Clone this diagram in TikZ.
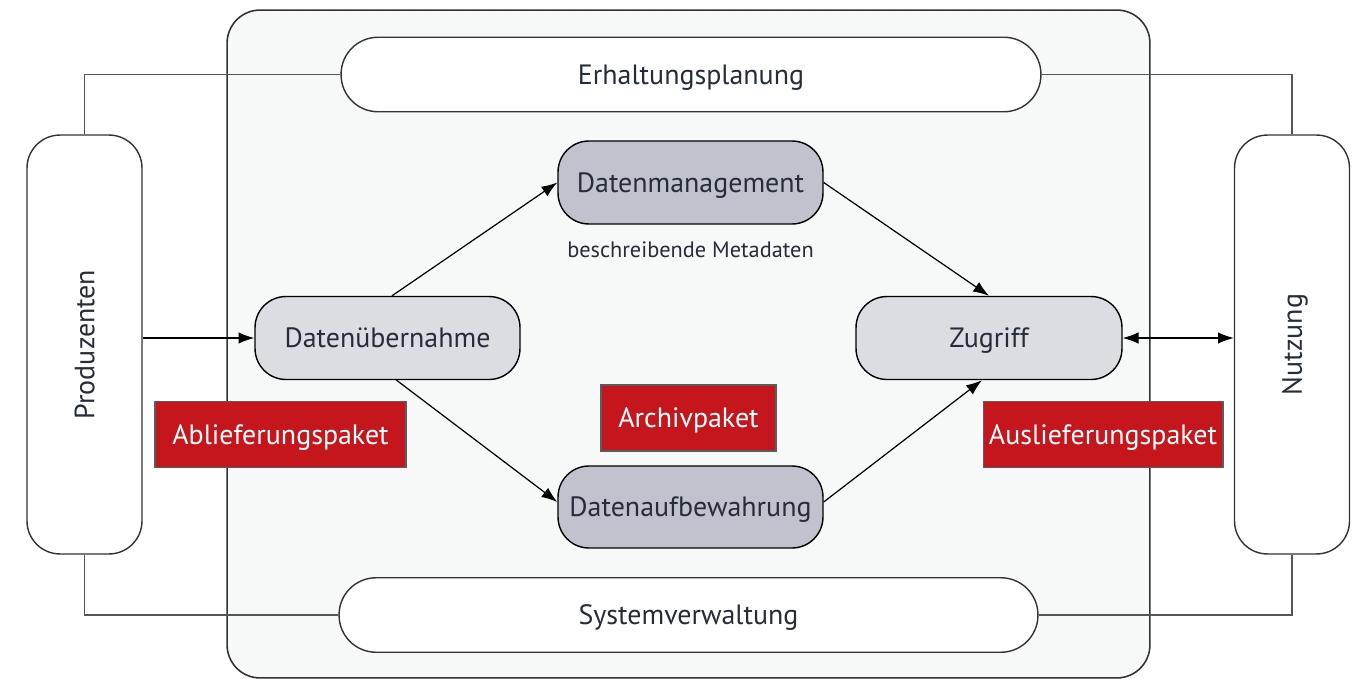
\documentclass[tikz,border=0pt]{standalone}
\usepackage{fontspec}
\setmainfont{PT Sans}
\usetikzlibrary{arrows.meta}
\definecolor{txt}{HTML}{262D3A}
\definecolor{mainfill}{HTML}{F7F8F8}
\definecolor{lightgray}{HTML}{DCDDE3}
\definecolor{darkgray}{HTML}{C0C3CE}
\definecolor{pkgred}{HTML}{C4161C}
\definecolor{edge}{HTML}{333333}
\definecolor{conn}{HTML}{555555}
\tikzset{
  lbl/.style={text=txt, font=\fontsize{15.9}{18}\selectfont, text height=12.6pt, text depth=1.4pt},
  mainbox/.style={draw=edge, line width=0.9pt, fill=mainfill, rounded corners=0.66cm, inner sep=0pt},
  pill/.style={draw=edge, line width=0.8pt, fill=white, rounded corners=0.74cm, minimum height=1.49cm, inner sep=0pt, lbl},
  side/.style={draw=edge, line width=0.8pt, fill=white, rounded corners=0.66cm, minimum width=2.3cm, minimum height=8.38cm, inner sep=0pt},
  proc/.style={draw=black, line width=0.8pt, rounded corners=0.62cm, minimum width=5.3cm, minimum height=1.66cm, inner sep=0pt, lbl},
  pkg/.style={draw=edge!80, line width=0.6pt, fill=pkgred, minimum height=1.33cm, inner sep=0pt, text=white, font=\fontsize{15.9}{18}\selectfont, text height=12.6pt, text depth=1.4pt},
  conline/.style={draw=conn, line width=0.7pt},
  arr/.style={draw=black, line width=0.7pt, -{Latex[length=9pt,width=6.5pt]}},
  darr/.style={draw=black, line width=0.7pt, {Latex[length=9pt,width=6.5pt]}-{Latex[length=9pt,width=6.5pt]}}
}
\begin{document}
\begin{tikzpicture}[x=0.02cm,y=-0.02cm]
\useasboundingbox (0,0) rectangle (1366,679);
\node[mainbox, minimum width=18.46cm, minimum height=13.36cm] (main) at (688.5,344) {};

\node[pill, minimum width=14cm] (ep) at (691,74.5) {Erhaltungsplanung};
\node[pill, minimum width=13.98cm] (sv) at (688.5,615) {Systemverwaltung};

\node[side] (prod) at (84.5,344.5) {};
\node[rotate=90, lbl] (prodt) at (prod.center) {Produzenten};
\node[side] (nutz) at (1292,344.5) {};
\node[rotate=90, lbl] (nutzt) at (nutz.center) {Nutzung};

\node[proc, fill=lightgray] (du) at (387.5,338) {Datenübernahme};
\node[proc, fill=darkgray] (dm) at (690.5,182.5) {Datenmanagement};
\node[proc, fill=darkgray, minimum height=1.64cm] (da) at (690.5,507) {Datenaufbewahrung};
\node[proc, fill=lightgray, minimum width=5.32cm] (zu) at (989,338) {Zugriff};

\node[text=txt, font=\fontsize{12.7}{15}\selectfont] (meta) at (690.5,250) {beschreibende Metadaten};

\node[pkg, minimum width=5.02cm] (ab) at (280.5,434.5) {Ablieferungspaket};
\node[pkg, minimum width=3.5cm, minimum height=1.32cm] (ar) at (688.5,418) {Archivpaket};
\node[pkg, minimum width=4.8cm] (au) at (1103,434.5) {Auslieferungspaket};

\draw[conline] (prod.north) |- (ep.west);
\draw[conline] (ep.east) -| (nutz.north);
\draw[conline] (prod.south) |- (sv.west);
\draw[conline] (sv.east) -| (nutz.south);

\draw[arr] (prod.east |- du.west) -- (du.west);
\draw[arr] ([xshift=0.09cm]du.north) -- (dm.west);
\draw[arr] (dm.east) -- (zu.north);
\draw[arr] ([xshift=0.18cm]du.south) -- ([yshift=0.1cm]da.west);
\draw[arr] ([yshift=0.1cm]da.east) -- ([xshift=-0.14cm]zu.south);
\draw[darr] (zu.east) -- (nutz.west |- zu.east);
\end{tikzpicture}
\end{document}
